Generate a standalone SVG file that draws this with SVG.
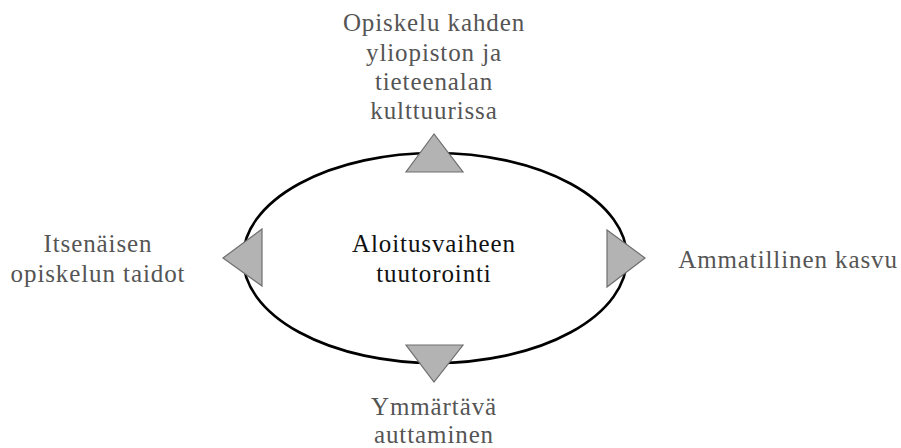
<svg xmlns="http://www.w3.org/2000/svg" width="901" height="448" viewBox="0 0 901 448">
<style>
text{font-family:"Liberation Serif","Times New Roman",serif;font-size:25px;letter-spacing:0.9px;text-anchor:middle}
.lbl{fill:#555555}
.ctr{fill:#111111}
.tri{fill:#b3b3b3;stroke:#6e6e6e;stroke-width:1.2;stroke-linejoin:miter}
</style>
<rect width="901" height="448" fill="#ffffff"/>
<g id="center">
<ellipse cx="435" cy="258" rx="192" ry="105" fill="#ffffff" stroke="#000000" stroke-width="2.6"/>
<text class="ctr" x="434" y="252">Aloitusvaiheen</text>
<text class="ctr" x="434" y="282">tuutorointi</text>
</g>
<g id="connectors">
<polygon class="tri" points="434,134 406,172 463,172"/>
<polygon class="tri" points="406,345 463,345 434,382"/>
<polygon class="tri" points="223,258 262,229 262,286"/>
<polygon class="tri" points="607,230 645,258 607,287"/>
</g>
<g id="top">
<text class="lbl" x="434" y="31">Opiskelu kahden</text>
<text class="lbl" x="434" y="61">yliopiston ja</text>
<text class="lbl" x="434" y="90">tieteenalan</text>
<text class="lbl" x="434" y="119">kulttuurissa</text>
</g>
<g id="left">
<text class="lbl" x="98" y="252">Itsenäisen</text>
<text class="lbl" x="98" y="282">opiskelun taidot</text>
</g>
<g id="right">
<text class="lbl" x="788" y="268">Ammatillinen kasvu</text>
</g>
<g id="bottom">
<text class="lbl" x="434" y="415">Ymmärtävä</text>
<text class="lbl" x="434" y="443">auttaminen</text>
</g>
</svg>
